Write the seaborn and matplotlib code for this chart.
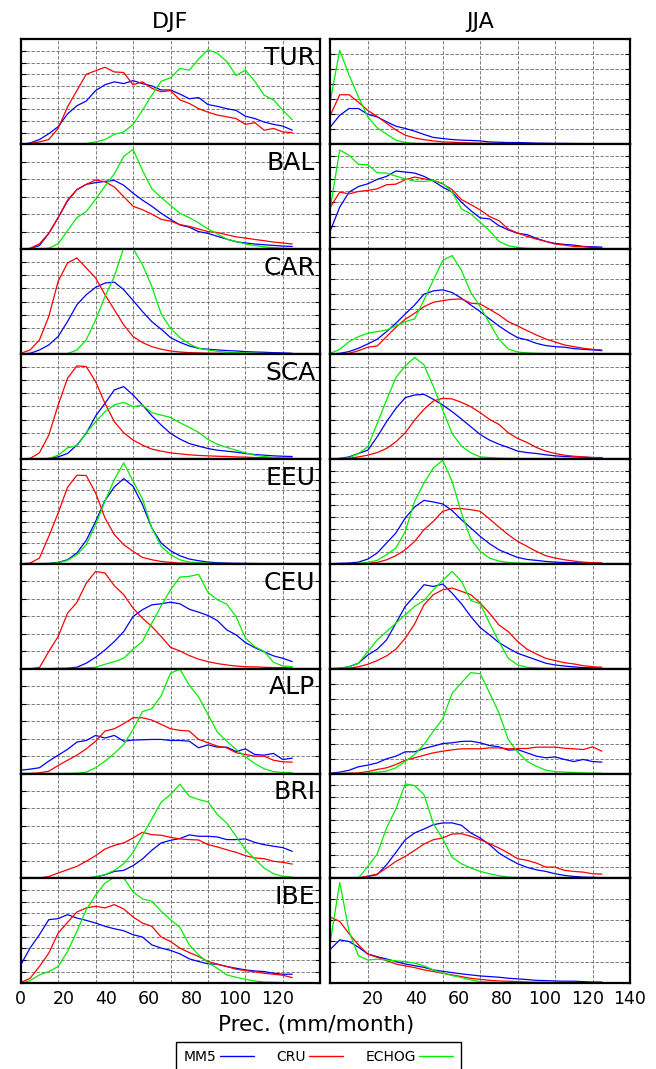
import matplotlib
matplotlib.use("Agg")
import numpy as np
import pandas as pd
import matplotlib.pyplot as plt
import seaborn as sns
from matplotlib.lines import Line2D
from matplotlib.ticker import FixedLocator

REGIONS = ["TUR", "BAL", "CAR", "SCA", "EEU", "CEU", "ALP", "BRI", "IBE"]
SEASONS = ["DJF", "JJA"]
SOURCES = ["MM5", "CRU", "ECHOG"]
COLORS = {"MM5": "#0000ff", "CRU": "#ff0000", "ECHOG": "#00ee00"}

# precipitation bins (mm/month), 140/32 wide
PREC_BINS = [0.0, 4.375, 8.75, 13.125, 17.5, 21.875, 26.25, 30.625, 35.0, 39.375,
             43.75, 48.125, 52.5, 56.875, 61.25, 65.625, 70.0, 74.375, 78.75, 83.125,
             87.5, 91.875, 96.25, 100.625, 105.0, 109.375, 113.75, 118.125, 122.5, 126.875]

# y extent of every panel, in grid steps
DJF_YMAX = [9, 6, 8, 8, 10, 6, 6, 6, 9]
JJA_YMAX = [7, 9, 7, 8, 9, 6, 7, 9, 5]

# ---------------- DJF ----------------
djf_tur_mm5 = [0, 0.1, 0.4, 0.9, 1.5, 2.6, 3.3, 3.7, 4.6, 5.1, 5.35, 5.2, 5.45, 5.2, 5.0, 4.65, 4.65, 4.3, 3.9, 4.0, 3.4, 3.25, 3.05, 2.9, 2.4, 2.2, 1.9, 1.7, 1.55, 1.2]
djf_tur_cru = [0, 0.06, 0.2, 0.4, 1.35, 3.2, 4.6, 6.0, 6.3, 6.6, 6.2, 6.15, 5.1, 5.35, 4.8, 4.5, 4.6, 3.8, 3.5, 3.05, 2.75, 2.5, 2.35, 2.2, 1.7, 1.85, 1.2, 1.35, 1.05, 1.0]
djf_tur_echog = [0, 0, 0, 0, 0, 0, 0.02, 0.05, 0.2, 0.4, 0.85, 1.05, 1.7, 2.9, 4.2, 5.4, 5.7, 6.5, 6.35, 7.3, 8.1, 7.8, 7.1, 5.9, 6.35, 5.4, 4.2, 3.8, 2.9, 2.1]

djf_bal_mm5 = [0, 0.03, 0.2, 0.9, 1.8, 2.75, 3.4, 3.7, 3.8, 3.87, 3.93, 3.65, 3.2, 2.8, 2.45, 2.05, 1.7, 1.38, 1.25, 1.0, 0.9, 0.73, 0.57, 0.42, 0.35, 0.29, 0.25, 0.21, 0.17, 0.15]
djf_bal_cru = [0, 0.04, 0.3, 0.9, 1.8, 2.8, 3.4, 3.7, 3.95, 3.85, 3.55, 3.0, 2.45, 2.25, 2.0, 1.7, 1.6, 1.4, 1.3, 1.15, 1.0, 0.95, 0.82, 0.7, 0.63, 0.55, 0.48, 0.4, 0.35, 0.29]
djf_bal_echog = [0, 0, 0, 0.05, 0.3, 1.05, 1.8, 2.15, 2.85, 3.6, 4.3, 5.3, 5.7, 4.5, 3.45, 2.95, 2.5, 2.05, 1.8, 1.5, 1.15, 0.87, 0.57, 0.44, 0.29, 0.2, 0.13, 0.08, 0.04, 0.02]

djf_car_mm5 = [0, 0.05, 0.3, 0.69, 1.33, 2.47, 3.75, 4.52, 5.08, 5.41, 5.48, 4.9, 4.08, 3.24, 2.47, 1.89, 1.25, 0.89, 0.61, 0.43, 0.36, 0.31, 0.26, 0.23, 0.18, 0.15, 0.13, 0.1, 0.08, 0.05]
djf_car_cru = [0.05, 0.3, 1.07, 2.86, 5.54, 6.94, 7.32, 6.56, 5.8, 4.52, 3.37, 2.22, 1.33, 0.87, 0.56, 0.36, 0.23, 0.15, 0.1, 0.08, 0.06, 0.05, 0.04, 0.03, 0.03, 0.02, 0.02, 0.01, 0.01, 0.01]
djf_car_echog = [0, 0, 0, 0, 0, 0.03, 0.3, 1.07, 2.6, 4.39, 5.92, 8.1, 8.05, 6.81, 5.15, 3.06, 1.96, 1.25, 0.77, 0.43, 0.31, 0.2, 0.13, 0.1, 0.08, 0.05, 0.04, 0.03, 0.02, 0.02]

djf_sca_mm5 = [0, 0, 0, 0.03, 0.15, 0.41, 1.05, 1.94, 3.27, 4.23, 5.26, 5.51, 4.87, 4.11, 3.29, 2.58, 1.94, 1.51, 1.17, 0.97, 0.79, 0.66, 0.59, 0.51, 0.41, 0.33, 0.28, 0.23, 0.2, 0.18]
djf_sca_cru = [0, 0.03, 0.46, 1.81, 4.1, 6.15, 7.09, 7.04, 5.89, 4.23, 2.83, 1.99, 1.43, 1.05, 0.74, 0.59, 0.46, 0.38, 0.31, 0.26, 0.23, 0.2, 0.18, 0.15, 0.13, 0.1, 0.1, 0.08, 0.05, 0.05]
djf_sca_echog = [0, 0, 0, 0.03, 0.28, 0.84, 1.0, 1.99, 2.83, 3.6, 4.11, 4.31, 3.98, 4.11, 3.52, 3.34, 3.16, 2.76, 2.4, 2.02, 1.48, 1.12, 0.87, 0.66, 0.46, 0.28, 0.18, 0.1, 0.05, 0.03]

djf_eeu_mm5 = [0, 0, 0, 0.03, 0.13, 0.38, 1.02, 2.23, 4.04, 6.02, 7.32, 8.12, 7.39, 5.64, 3.41, 1.97, 1.24, 0.76, 0.45, 0.29, 0.16, 0.1, 0.06, 0.04, 0.03, 0.02, 0.01, 0.01, 0, 0]
djf_eeu_cru = [0, 0.06, 0.54, 2.61, 4.84, 7.29, 8.44, 8.41, 6.75, 4.36, 2.77, 1.82, 1.18, 0.61, 0.38, 0.22, 0.13, 0.06, 0.03, 0.02, 0.01, 0.01, 0, 0, 0, 0, 0, 0, 0, 0]
djf_eeu_echog = [0, 0, 0, 0.02, 0.1, 0.32, 0.86, 1.82, 3.73, 5.96, 8.03, 9.62, 7.87, 6.18, 3.41, 1.66, 0.86, 0.38, 0.16, 0.1, 0.05, 0.03, 0.02, 0.01, 0.01, 0, 0, 0, 0, 0]

djf_ceu_mm5 = [0, 0, 0, 0, 0.01, 0.02, 0.08, 0.31, 0.65, 1.07, 1.55, 2.12, 2.98, 3.37, 3.65, 3.71, 3.8, 3.71, 3.4, 3.23, 3.04, 2.75, 2.22, 1.93, 1.49, 1.2, 0.96, 0.73, 0.59, 0.4]
djf_ceu_cru = [0, 0, 0.06, 0.98, 1.84, 3.17, 3.79, 4.89, 5.56, 5.47, 4.74, 4.23, 3.46, 2.89, 2.41, 1.84, 1.22, 1.01, 0.75, 0.54, 0.4, 0.29, 0.21, 0.15, 0.11, 0.1, 0.08, 0.06, 0.06, 0.04]
djf_ceu_echog = [0, 0, 0, 0, 0, 0, 0.02, 0.04, 0.08, 0.25, 0.4, 0.59, 1.11, 1.55, 2.6, 3.59, 4.51, 5.24, 5.28, 5.39, 4.36, 3.94, 3.69, 2.98, 1.74, 1.26, 0.98, 0.36, 0.15, 0.11]

djf_alp_mm5 = [0.19, 0.25, 0.33, 0.71, 1.05, 1.38, 1.8, 1.89, 2.18, 2.03, 2.18, 1.85, 1.91, 1.93, 1.95, 1.95, 1.89, 1.89, 1.85, 1.47, 1.64, 1.51, 1.51, 1.26, 1.41, 1.09, 1.05, 1.15, 0.8, 0.88]
djf_alp_cru = [0, 0, 0.04, 0.13, 0.46, 0.76, 1.05, 1.41, 1.85, 2.43, 2.56, 2.85, 3.19, 3.19, 3.06, 2.81, 2.56, 2.47, 2.43, 1.95, 1.76, 1.57, 1.47, 1.19, 1.09, 0.99, 0.99, 0.76, 0.67, 0.65]
djf_alp_echog = [0, 0, 0, 0, 0, 0, 0.02, 0.08, 0.33, 0.71, 1.15, 1.66, 2.52, 3.54, 3.71, 4.44, 5.74, 5.97, 5.05, 4.38, 3.38, 2.37, 1.85, 1.38, 0.96, 0.57, 0.27, 0.11, 0.06, 0.04]

djf_bri_mm5 = [0, 0, 0, 0, 0, 0, 0, 0.02, 0.08, 0.21, 0.4, 0.46, 0.73, 1.11, 1.61, 2.03, 2.18, 2.28, 2.49, 2.41, 2.41, 2.37, 2.22, 2.22, 2.26, 2.06, 1.93, 1.84, 1.76, 1.55]
djf_bri_cru = [0, 0, 0.02, 0.11, 0.31, 0.5, 0.69, 0.98, 1.3, 1.68, 1.89, 2.03, 2.31, 2.64, 2.5, 2.47, 2.35, 2.26, 2.22, 2.2, 1.93, 1.8, 1.64, 1.49, 1.3, 1.17, 1.13, 0.98, 0.92, 0.82]
djf_bri_echog = [0, 0, 0, 0, 0, 0, 0, 0.02, 0.08, 0.21, 0.46, 0.84, 1.49, 2.45, 3.4, 4.36, 4.8, 5.39, 4.7, 4.51, 4.38, 3.65, 3.17, 2.41, 1.64, 1.11, 0.59, 0.27, 0.11, 0.08]

djf_ibe_mm5 = [1.58, 3.02, 4.17, 5.46, 5.55, 5.89, 5.6, 5.4, 5.17, 4.89, 4.68, 4.51, 4.17, 3.97, 3.3, 3.02, 2.82, 2.53, 2.1, 1.87, 1.67, 1.64, 1.44, 1.29, 1.15, 1.06, 1.01, 0.86, 0.78, 0.78]
djf_ibe_cru = [0.06, 0.43, 1.44, 2.59, 4.31, 5.23, 6.12, 6.47, 6.61, 6.47, 6.75, 6.38, 5.69, 5.17, 4.89, 3.97, 3.59, 3.02, 2.64, 2.3, 1.87, 1.64, 1.44, 1.21, 1.09, 0.98, 0.86, 0.78, 0.69, 0.49]
djf_ibe_echog = [0, 0.23, 0.72, 1.01, 1.44, 2.73, 4.45, 6.32, 7.56, 8.6, 9.1, 9.05, 7.84, 7.24, 7.04, 6.18, 5.46, 4.8, 3.3, 2.44, 1.78, 1.29, 0.72, 0.52, 0.34, 0.2, 0.11, 0.09, 0.06, 0.06]

# ---------------- JJA ----------------
jja_tur_mm5 = [1.15, 1.93, 2.38, 2.38, 2.0, 1.82, 1.5, 1.2, 1.05, 0.87, 0.65, 0.45, 0.38, 0.31, 0.27, 0.25, 0.22, 0.15, 0.13, 0.11, 0.11, 0.09, 0.07, 0.06, 0.05, 0.05, 0.04, 0.04, 0.03, 0.03]
jja_tur_cru = [1.93, 3.3, 3.3, 2.8, 2.25, 1.85, 1.4, 0.95, 0.6, 0.42, 0.3, 0.22, 0.15, 0.13, 0.1, 0.08, 0.06, 0.05, 0.04, 0.04, 0.03, 0.03, 0.02, 0.02, 0.02, 0.01, 0.01, 0.01, 0.01, 0.01]
jja_tur_echog = [2.9, 6.27, 4.6, 3.15, 1.82, 1.09, 0.67, 0.27, 0.11, 0.05, 0.02, 0.01, 0, 0, 0, 0, 0, 0, 0, 0, 0, 0, 0, 0, 0, 0, 0, 0, 0, 0]

jja_bal_mm5 = [1.58, 3.6, 4.89, 5.37, 5.6, 5.98, 6.24, 6.7, 6.61, 6.52, 6.24, 5.83, 5.32, 4.89, 4.02, 3.3, 2.67, 2.59, 2.01, 1.64, 1.35, 1.24, 0.92, 0.66, 0.49, 0.4, 0.34, 0.23, 0.2, 0.17]
jja_bal_cru = [3.6, 4.89, 4.74, 4.94, 5.03, 5.17, 5.52, 5.57, 5.95, 6.18, 6.03, 5.89, 5.6, 5.11, 4.25, 3.82, 3.36, 2.79, 2.44, 1.72, 1.38, 1.09, 0.86, 0.66, 0.43, 0.34, 0.23, 0.2, 0.14, 0.11]
jja_bal_echog = [3.6, 8.5, 8.05, 7.27, 7.24, 6.55, 6.52, 6.26, 6.03, 5.83, 5.8, 5.89, 5.66, 4.89, 3.45, 3.02, 2.3, 1.58, 0.66, 0.29, 0.14, 0.06, 0.03, 0.02, 0.01, 0, 0, 0, 0, 0]

jja_car_mm5 = [0, 0.04, 0.16, 0.38, 0.67, 0.98, 1.49, 2.05, 2.67, 3.27, 3.99, 4.21, 4.28, 4.1, 3.72, 3.27, 2.83, 2.34, 1.87, 1.45, 1.09, 0.94, 0.71, 0.56, 0.49, 0.45, 0.36, 0.31, 0.27, 0.22]
jja_car_cru = [0, 0.02, 0.04, 0.22, 0.45, 0.53, 1.16, 1.78, 2.32, 2.72, 3.16, 3.45, 3.56, 3.65, 3.67, 3.39, 3.34, 2.98, 2.61, 2.16, 1.87, 1.56, 1.27, 1.0, 0.8, 0.6, 0.49, 0.38, 0.31, 0.27]
jja_car_echog = [0.04, 0.31, 0.82, 1.16, 1.38, 1.49, 1.6, 1.87, 2.16, 2.34, 3.61, 4.94, 6.24, 6.57, 5.57, 4.1, 3.16, 2.05, 0.98, 0.33, 0.13, 0.07, 0.04, 0.02, 0.01, 0.01, 0, 0, 0, 0]

jja_sca_mm5 = [0, 0.03, 0.15, 0.41, 0.66, 1.68, 2.83, 3.85, 4.67, 4.87, 4.92, 4.54, 4.11, 3.6, 3.04, 2.45, 1.86, 1.43, 1.12, 0.87, 0.59, 0.48, 0.41, 0.31, 0.23, 0.18, 0.15, 0.13, 0.1, 0.1]
jja_sca_cru = [0, 0, 0.05, 0.15, 0.28, 0.48, 0.79, 1.3, 1.99, 2.96, 3.78, 4.41, 4.62, 4.57, 4.31, 3.98, 3.52, 3.01, 2.63, 1.99, 1.56, 1.25, 0.87, 0.59, 0.41, 0.28, 0.2, 0.15, 0.1, 0.08]
jja_sca_echog = [0, 0.03, 0.08, 0.41, 0.92, 2.7, 4.49, 6.2, 7.09, 7.73, 7.17, 5.51, 3.72, 1.94, 0.97, 0.46, 0.15, 0.1, 0.05, 0.03, 0.02, 0.01, 0, 0, 0, 0, 0, 0, 0, 0]

jja_eeu_mm5 = [0, 0.03, 0.06, 0.14, 0.4, 0.92, 1.78, 2.64, 3.93, 4.87, 5.44, 5.3, 5.13, 4.56, 3.78, 3.07, 2.35, 1.72, 1.2, 0.86, 0.54, 0.37, 0.29, 0.2, 0.14, 0.11, 0.09, 0.06, 0.06, 0.03]
jja_eeu_cru = [0, 0, 0, 0.02, 0.03, 0.11, 0.34, 0.69, 1.2, 1.92, 2.92, 3.64, 4.5, 4.73, 4.73, 4.64, 4.5, 3.84, 3.15, 2.49, 1.92, 1.49, 1.06, 0.69, 0.49, 0.34, 0.23, 0.14, 0.09, 0.06]
jja_eeu_echog = [0, 0, 0, 0.03, 0.11, 0.29, 0.77, 1.35, 2.78, 5.36, 6.93, 8.22, 8.88, 7.08, 4.36, 2.12, 1.06, 0.49, 0.23, 0.11, 0.06, 0.03, 0.02, 0.01, 0, 0, 0, 0, 0, 0]

jja_ceu_mm5 = [0, 0.02, 0.11, 0.31, 0.78, 1.11, 1.64, 2.6, 3.56, 4.17, 4.8, 4.7, 4.84, 4.32, 3.71, 2.98, 2.35, 1.93, 1.49, 1.17, 0.88, 0.69, 0.5, 0.31, 0.21, 0.15, 0.1, 0.06, 0.04, 0.02]
jja_ceu_cru = [0, 0, 0.02, 0.11, 0.25, 0.46, 0.73, 1.11, 1.74, 2.56, 3.65, 4.23, 4.51, 4.61, 4.42, 4.23, 3.75, 3.17, 2.5, 2.12, 1.55, 1.11, 0.84, 0.59, 0.46, 0.34, 0.27, 0.17, 0.11, 0.08]
jja_ceu_echog = [0, 0.02, 0.11, 0.31, 0.98, 1.64, 2.12, 2.6, 3.08, 3.56, 3.9, 4.51, 5.05, 5.56, 4.99, 3.9, 3.71, 2.6, 1.55, 0.59, 0.21, 0.08, 0.04, 0.02, 0.01, 0, 0, 0, 0, 0]

jja_alp_mm5 = [0.02, 0.09, 0.22, 0.45, 0.56, 0.71, 0.98, 1.16, 1.45, 1.45, 1.67, 1.83, 2.0, 2.05, 2.14, 2.16, 2.05, 1.87, 1.78, 1.56, 1.6, 1.38, 1.16, 1.05, 1.11, 0.94, 0.8, 0.94, 0.8, 0.76]
jja_alp_cru = [0, 0, 0.02, 0.04, 0.13, 0.27, 0.38, 0.6, 0.89, 1.05, 1.22, 1.38, 1.49, 1.58, 1.65, 1.65, 1.65, 1.71, 1.71, 1.65, 1.67, 1.67, 1.76, 1.76, 1.76, 1.69, 1.65, 1.6, 1.78, 1.49]
jja_alp_echog = [0, 0, 0, 0, 0.02, 0.09, 0.16, 0.38, 0.82, 1.27, 1.94, 2.83, 3.65, 5.35, 6.06, 6.73, 6.66, 5.39, 4.05, 2.27, 1.43, 0.82, 0.49, 0.22, 0.13, 0.09, 0.07, 0.04, 0.02, 0.02]

jja_bri_mm5 = [0, 0, 0.01, 0.03, 0.17, 0.32, 1.17, 2.23, 3.32, 3.9, 4.24, 4.61, 4.76, 4.76, 4.56, 3.9, 3.47, 2.89, 2.18, 1.69, 1.26, 0.95, 0.74, 0.6, 0.4, 0.26, 0.17, 0.11, 0.09, 0.06]
jja_bri_cru = [0, 0, 0.01, 0.03, 0.2, 0.37, 0.89, 1.46, 1.89, 2.41, 2.95, 3.32, 3.47, 3.81, 3.84, 3.61, 3.32, 2.98, 2.61, 2.18, 1.69, 1.55, 1.32, 0.97, 0.97, 0.69, 0.6, 0.54, 0.4, 0.37]
jja_bri_echog = [0, 0, 0.01, 0.03, 1.03, 2.09, 4.33, 5.96, 8.11, 7.97, 7.19, 4.7, 3.4, 1.81, 1.26, 0.89, 0.6, 0.4, 0.23, 0.11, 0.06, 0.04, 0.03, 0.02, 0.01, 0, 0, 0, 0, 0]

jja_ibe_mm5 = [1.62, 2.07, 1.99, 1.72, 1.4, 1.27, 1.16, 1.04, 0.92, 0.84, 0.76, 0.64, 0.57, 0.51, 0.45, 0.4, 0.35, 0.32, 0.29, 0.24, 0.21, 0.18, 0.14, 0.13, 0.11, 0.1, 0.1, 0.08, 0.06, 0.06]
jja_ibe_cru = [3.15, 2.95, 2.36, 1.83, 1.39, 1.24, 1.08, 0.92, 0.83, 0.75, 0.64, 0.56, 0.48, 0.4, 0.32, 0.24, 0.19, 0.14, 0.11, 0.1, 0.08, 0.06, 0.05, 0.05, 0.03, 0.03, 0.02, 0.02, 0.02, 0.02]
jja_ibe_echog = [1.99, 4.81, 2.47, 1.31, 1.11, 1.15, 1.11, 1.07, 1.04, 0.96, 0.83, 0.64, 0.48, 0.37, 0.27, 0.16, 0.08, 0.05, 0.04, 0.03, 0.02, 0.01, 0, 0, 0, 0, 0, 0, 0, 0]

# long table: season / region / source / prec / freq
rows = []
for season in SEASONS:
    for region in REGIONS:
        for src in SOURCES:
            vals = globals()[f"{season.lower()}_{region.lower()}_{src.lower()}"]
            for p, v in zip(PREC_BINS, vals):
                rows.append((season, region, src, p, v))
df = pd.DataFrame(rows, columns=["season", "region", "source", "prec", "freq"])

sns.set_style("ticks")
plt.rcParams.update({"font.family": ["DejaVu Sans"], "text.color": "black",
                     "axes.labelcolor": "black", "xtick.color": "black",
                     "ytick.color": "black"})

fig, axes = plt.subplots(9, 2, figsize=(6.56, 10.69), dpi=100)
fig.subplots_adjust(left=20.7/656, right=630/656, top=1-39.3/1069,
                    bottom=1-983.3/1069, hspace=0, wspace=0.0334)

xmajor = [0, 20, 40, 60, 80, 100, 120, 140]
xgrid = [17.5, 35, 52.5, 70, 87.5, 105, 122.5]
grid_kw = dict(color="0.4", linestyle=(0, (4, 2)), linewidth=0.6)

for j, season in enumerate(SEASONS):
    ymaxes = DJF_YMAX if season == "DJF" else JJA_YMAX
    for i, region in enumerate(REGIONS):
        ax = axes[i, j]
        sub = df[(df.season == season) & (df.region == region)]
        sns.lineplot(data=sub, x="prec", y="freq", hue="source", hue_order=SOURCES,
                     palette=COLORS, estimator=None, sort=False, linewidth=0.9,
                     legend=False, ax=ax)
        ymax = ymaxes[i]
        ax.set_xlim(0, 140)
        ax.set_ylim(0, ymax)
        ax.set_xlabel("")
        ax.set_ylabel("")
        ax.set_axisbelow(True)

        ax.set_xticks(xmajor)
        if i == len(REGIONS) - 1:
            if j == 0:
                ax.set_xticklabels(["0", "20", "40", "60", "80", "100", "120", ""])
            else:
                ax.set_xticklabels(["", "20", "40", "60", "80", "100", "120", "140"])
        else:
            ax.set_xticklabels([])
        ax.xaxis.set_minor_locator(FixedLocator(xgrid))
        ax.tick_params(axis="x", which="both", length=0, labelsize=12.5, pad=5,
                       labelcolor="black")

        ax.set_yticks(range(0, ymax + 1))
        ax.set_yticklabels([])
        ax.tick_params(axis="y", which="major", direction="in", length=3.5,
                       width=0.8, left=True, right=True, color="black")

        ax.grid(False)
        ax.grid(True, which="minor", axis="x", **grid_kw)
        ax.grid(True, which="major", axis="y", **grid_kw)

        for sp in ax.spines.values():
            sp.set_visible(True)
            sp.set_linewidth(1.6)
            sp.set_color("black")

        if j == 0:
            ax.text(0.983, 0.935, region, transform=ax.transAxes, ha="right",
                    va="top", fontsize=18, color="black")
        if i == 0:
            ax.set_title(season, fontsize=16, pad=8, color="black")

fig.text(316/656, 1-1025/1069, "Prec. (mm/month)", ha="center", va="center",
         fontsize=15.5, color="black")

handles = [Line2D([], [], color=COLORS[s], linewidth=1.0) for s in SOURCES]
leg = fig.legend(handles, SOURCES, loc="upper left",
                 bbox_to_anchor=(176/656, 1-1042/1069), ncol=3, markerfirst=False,
                 frameon=True, fancybox=False, edgecolor="black", framealpha=1,
                 fontsize=10, handlelength=2.45, handletextpad=0.25,
                 columnspacing=1.6, borderpad=0.55, borderaxespad=0)
leg.get_frame().set_linewidth(1.0)
for t in leg.get_texts():
    t.set_color("black")

fig.savefig("out.png", dpi=100)
